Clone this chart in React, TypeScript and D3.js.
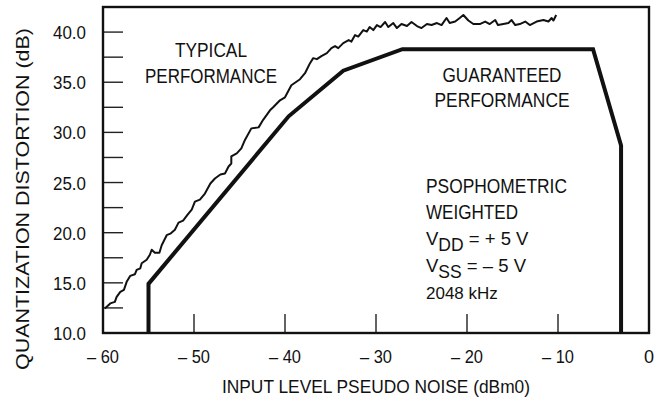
import React from "react";
import * as d3 from "d3";

// typical performance trace (input level dBm0, distortion dB)
const typicalX = [
  -59.8, -59.2, -58.7, -58.5, -58.1, -57.7, -57.4, -57.0, -56.5, -56.3, -55.9, -55.75,
  -55.2, -54.85, -54.65, -54.3, -53.8, -53.55, -53.0, -52.6, -52.1, -51.7, -51.2, -50.7,
  -50.25, -49.9, -49.35, -48.8, -48.2, -47.7, -47.1, -46.6, -46.2, -45.9, -45.9, -45.3,
  -44.8, -44.4, -43.7, -42.9, -42.4, -41.65, -41.3, -40.55, -40.0, -39.3, -38.35, -37.8,
  -37.25, -36.9, -36.5, -36.0, -35.4, -34.9, -34.5, -34.15, -33.6, -33.0, -32.7, -32.3,
  -31.95, -31.4, -31.0, -30.7, -30.3, -29.9, -29.5, -29.0, -28.65, -28.1, -27.7, -27.2,
  -26.6, -26.1, -25.5, -25.0, -24.4, -23.9, -23.3, -22.8, -22.25, -21.9, -21.3, -20.8,
  -20.4, -19.85, -19.3, -18.6, -18.0, -17.5, -16.9, -16.6, -16.0, -15.45, -15.1, -14.7,
  -14.2, -13.6, -13.1, -12.35, -11.6, -11.05, -10.7, -10.5, -10.2,
];
const typicalY = [
  12.45, 12.95, 13.1, 13.6, 14.1, 14.3, 15.1, 15.7, 15.85, 16.3, 16.45, 16.95,
  17.3, 17.8, 18.3, 18.0, 18.0, 18.75, 19.75, 19.9, 20.3, 21.0, 21.2, 21.8,
  22.3, 23.1, 23.3, 23.9, 24.9, 25.4, 25.8, 25.9, 26.6, 26.9, 27.6, 27.9,
  28.4, 29.25, 30.4, 30.5, 31.25, 32.2, 32.5, 33.2, 33.5, 34.7, 35.3, 35.9,
  36.9, 37.4, 37.3, 37.6, 37.9, 38.4, 38.6, 38.4, 38.9, 39.2, 39.05, 39.7,
  39.55, 40.2, 40.05, 40.5, 40.2, 40.7, 40.5, 41.0, 40.5, 40.9, 40.4, 40.8,
  40.6, 41.0, 40.6, 40.4, 40.8, 40.7, 40.9, 40.7, 41.4, 40.9, 41.05, 41.4,
  41.7, 41.15, 40.8, 40.8, 41.05, 40.8, 41.2, 40.7, 40.8, 40.9, 41.2, 40.7,
  40.8, 41.05, 40.7, 41.05, 41.2, 41.05, 41.4, 41.15, 41.7,
];

// guaranteed performance envelope
const guaranteedX = [-55.0, -55.0, -39.6, -33.6, -27.1, -6.15, -3.07, -3.07];
const guaranteedY = [10, 14.9, 31.6, 36.15, 38.3, 38.3, 28.7, 10];

const xTickValues = [-60, -50, -40, -30, -20, -10, 0];
const xTickLabels = ["\u2013 60", "\u2013 50", "\u2013 40", "\u2013 30", "\u2013 20", "\u2013 10", "0"];
const yLabelValues = [10, 15, 20, 25, 30, 35, 40];
const yLabelTexts = ["10.0", "15.0", "20.0", "25.0", "30.0", "35.0", "40.0"];
const yMinorValues = [12.5, 15, 17.5, 20, 22.5, 25, 27.5, 30, 32.5, 35, 37.5, 40];
const xMinorValues = [-50, -40, -30, -20, -10];

const font = "'Liberation Sans', Arial, Helvetica, sans-serif";

const App = () => {
  const W = 666;
  const H = 403;
  const left = 103;
  const right = 649;
  const top = 7;
  const bottom = 333;

  const x = d3.scaleLinear().domain([-60, 0]).range([left, right]);
  const y = d3.scaleLinear().domain([10, 42.5]).range([bottom, top]);

  const typical = typicalX.map((v, i) => [v, typicalY[i]] as [number, number]);
  const guaranteed = guaranteedX.map((v, i) => [v, guaranteedY[i]] as [number, number]);

  const line = d3
    .line<[number, number]>()
    .x((d) => x(d[0]))
    .y((d) => y(d[1]));

  return (
    <svg
      width={W}
      height={H}
      style={{ position: "absolute", left: 0, top: 0, background: "#fff" }}
      fontFamily={font}
    >
      <rect x={0} y={0} width={W} height={H} fill="#fff" />

      {/* y minor ticks */}
      {yMinorValues.map((v) => (
        <line key={"yt" + v} x1={left} x2={left + 20} y1={y(v)} y2={y(v)} stroke="#222" strokeWidth={1.4} />
      ))}
      {/* x ticks */}
      {xMinorValues.map((v) => (
        <line key={"xt" + v} x1={x(v)} x2={x(v)} y1={bottom} y2={bottom - 19} stroke="#222" strokeWidth={1.4} />
      ))}

      {/* frame */}
      <rect x={left} y={top} width={right - left} height={bottom - top} fill="none" stroke="#111" strokeWidth={2.4} />

      {/* curves */}
      <path d={line(typical) || ""} fill="none" stroke="#111" strokeWidth={2} strokeLinejoin="round" />
      <path d={line(guaranteed) || ""} fill="none" stroke="#111" strokeWidth={4} strokeLinejoin="miter" />

      {/* y tick labels */}
      {yLabelValues.map((v, i) => (
        <text key={"yl" + v} x={86} y={y(v) + 7} fontSize={18} textAnchor="end" fill="#111"
          textLength={33} lengthAdjust="spacingAndGlyphs">
          {yLabelTexts[i]}
        </text>
      ))}
      {/* x tick labels */}
      {xTickValues.map((v, i) => (
        <text key={"xl" + v} x={x(v)} y={363} fontSize={18} textAnchor="middle" fill="#111"
          textLength={v === 0 ? undefined : 32} lengthAdjust="spacingAndGlyphs">
          {xTickLabels[i]}
        </text>
      ))}

      {/* axis titles */}
      <text x={376} y={393} fontSize={18.5} textAnchor="middle" fill="#111"
        textLength={308} lengthAdjust="spacingAndGlyphs">
        INPUT LEVEL PSEUDO NOISE (dBm0)
      </text>
      <text transform={`translate(29,199) rotate(-90)`} fontSize={18.5} textAnchor="middle" fill="#111"
        textLength={342} lengthAdjust="spacingAndGlyphs">
        QUANTIZATION DISTORTION (dB)
      </text>

      {/* annotations */}
      <g fontSize={19.5} fill="#111">
        <text x={211} y={57} textAnchor="middle" textLength={72} lengthAdjust="spacingAndGlyphs">TYPICAL</text>
        <text x={211} y={83} textAnchor="middle" textLength={132} lengthAdjust="spacingAndGlyphs">PERFORMANCE</text>
        <text x={502} y={82} textAnchor="middle" textLength={119} lengthAdjust="spacingAndGlyphs">GUARANTEED</text>
        <text x={502} y={107} textAnchor="middle" textLength={135} lengthAdjust="spacingAndGlyphs">PERFORMANCE</text>
        <text x={426} y={193} textLength={141} lengthAdjust="spacingAndGlyphs">PSOPHOMETRIC</text>
        <text x={426} y={219} textLength={92} lengthAdjust="spacingAndGlyphs">WEIGHTED</text>
        <text x={426} y={245} fontSize={18.5}>
          V<tspan fontSize={17.5} dy={6}>DD</tspan>
          <tspan dy={-6}> = + 5 V</tspan>
        </text>
        <text x={426} y={272} fontSize={18.5}>
          V<tspan fontSize={17.5} dy={6}>SS</tspan>
          <tspan dy={-6}> = {"\u2013"} 5 V</tspan>
        </text>
        <text x={426} y={299} fontSize={17}>2048 kHz</text>
      </g>
    </svg>
  );
};

export default App;
